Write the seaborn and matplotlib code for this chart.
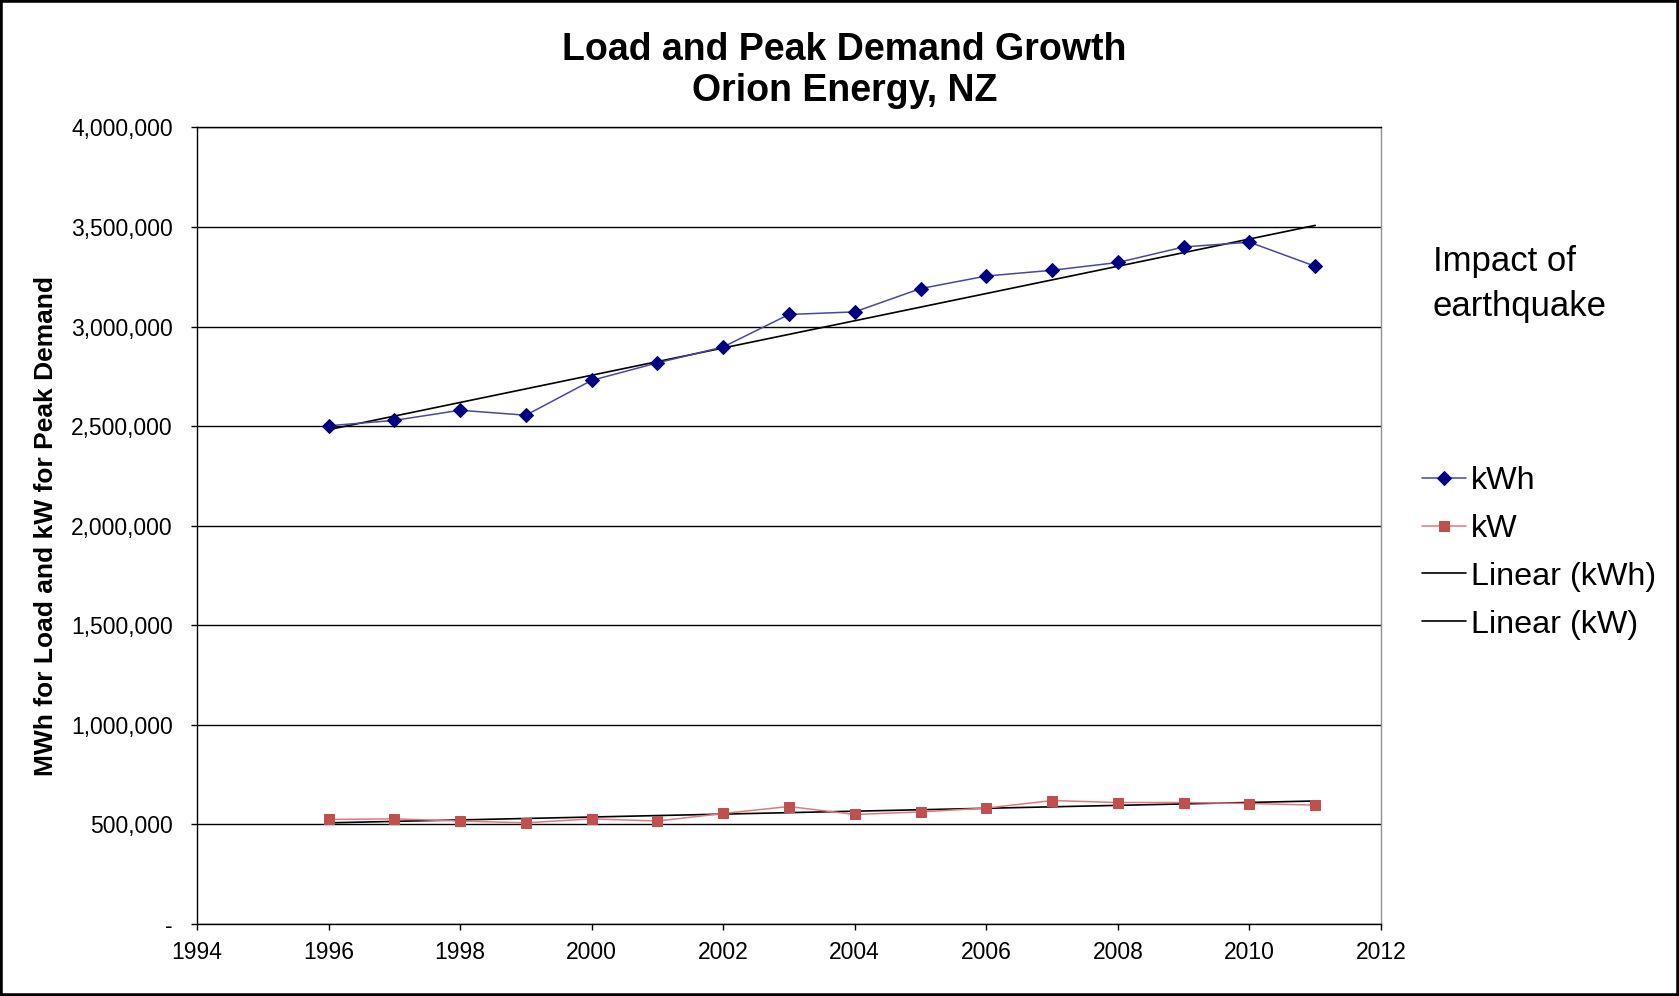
import numpy as np
import pandas as pd
import matplotlib
matplotlib.use("Agg")
import matplotlib.pyplot as plt
from matplotlib.patches import Rectangle
from matplotlib.ticker import FuncFormatter
import seaborn as sns

# data
years = list(range(1996, 2012))
kwh = [2502000, 2529000, 2580000, 2555000, 2730000, 2818000, 2898000, 3061000,
       3074000, 3191000, 3254000, 3283000, 3322000, 3400000, 3424000, 3303000]
kw = [525000, 528000, 517000, 508000, 528000, 517000, 555000, 590000,
      550000, 563000, 582000, 620000, 610000, 610000, 605000, 597000]
x_ticks = list(range(1994, 2013, 2))
y_ticks = list(range(0, 4000001, 500000))

df = pd.DataFrame({"year": years, "kWh": kwh, "kW": kw})

sns.set_style("white")
plt.rcParams['font.family'] = ['Liberation Sans', 'DejaVu Sans']
plt.rcParams['text.color'] = 'black'
plt.rcParams['axes.labelcolor'] = 'black'
plt.rcParams['xtick.color'] = 'black'
plt.rcParams['ytick.color'] = 'black'

fig = plt.figure(figsize=(16.79, 9.96), dpi=100)
ax = fig.add_axes([0.1173, 0.0723, 0.7052, 0.7997])

# series
sns.lineplot(data=df, x="year", y="kWh", ax=ax, color="#4848a0", lw=1.1,
             marker="D", markersize=7.5, markerfacecolor="#000080",
             markeredgecolor="#000080", label="kWh", zorder=4)
sns.lineplot(data=df, x="year", y="kW", ax=ax, color="#e07a7a", lw=1.1,
             marker="s", markersize=7, markerfacecolor="#c0504d",
             markeredgecolor="#c0504d", label="kW", zorder=4)

# linear trends
sns.regplot(data=df, x="year", y="kWh", ax=ax, scatter=False, ci=None,
            label="Linear (kWh)", line_kws=dict(color="black", lw=1.2, zorder=3))
sns.regplot(data=df, x="year", y="kW", ax=ax, scatter=False, ci=None,
            label="Linear (kW)", line_kws=dict(color="black", lw=1.2, zorder=3))

ax.set_xlim(1994, 2012)
ax.set_ylim(0, 4000000)
ax.set_xticks(x_ticks)
ax.set_yticks(y_ticks)
ax.yaxis.set_major_formatter(FuncFormatter(lambda v, p: "-" if v == 0 else f"{v:,.0f}"))

ax.yaxis.grid(True, color="black", lw=1)
ax.xaxis.grid(False)
ax.set_axisbelow(True)
for s in ["left", "bottom", "top"]:
    ax.spines[s].set_color("black")
    ax.spines[s].set_linewidth(1)
ax.spines["right"].set_color("#909090")
ax.spines["right"].set_linewidth(1)

ax.tick_params(axis="both", which="major", direction="out", length=4.5,
               width=1, color="black", labelsize=16.5, bottom=True, left=True)
ax.tick_params(axis="x", pad=8)
ax.tick_params(axis="y", pad=13)

ax.set_xlabel("")
ax.set_ylabel("MWh for Load and kW for Peak Demand", fontsize=19,
              fontweight="bold", labelpad=9)

# title
fig.text(0.503, 1 - 50 / 996, "Load and Peak Demand Growth", ha="center",
         va="center", fontsize=27, fontweight="bold")
fig.text(0.503, 1 - 91 / 996, "Orion Energy, NZ", ha="center",
         va="center", fontsize=27, fontweight="bold")

# annotation
fig.text(1433 / 1679, 1 - 261 / 996, "Impact of", ha="left", va="center", fontsize=25)
fig.text(1433 / 1679, 1 - 306 / 996, "earthquake", ha="left", va="center", fontsize=25)

handles, labels = ax.get_legend_handles_labels()
ax.legend(handles, labels, loc="upper left", bbox_to_anchor=(0.847, 0.532),
          bbox_transform=fig.transFigure, frameon=False, fontsize=23.3,
          handlelength=1.35, handletextpad=0.15, labelspacing=0.55,
          borderpad=0, borderaxespad=0)

# chart border
fig.patches.append(Rectangle((0, 0), 1, 1, transform=fig.transFigure,
                             fill=False, edgecolor="black", lw=4))

fig.savefig("out.png", dpi=100)
